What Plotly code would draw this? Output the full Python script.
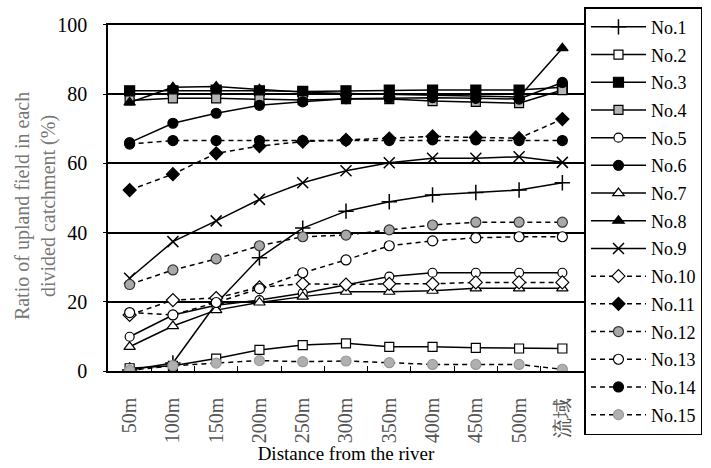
import plotly.graph_objects as go

categories = ["50m", "100m", "150m", "200m", "250m", "300m", "350m", "400m", "450m", "500m", "流域"]

no1 = [0.3, 2.3, 19.5, 32.7, 41.3, 46.2, 48.9, 50.9, 51.6, 52.3, 54.4]
no2 = [0.8, 1.5, 3.6, 6.1, 7.5, 8.0, 7.0, 7.0, 6.7, 6.5, 6.5]
no3 = [81.0, 81.0, 81.2, 81.0, 80.8, 81.0, 81.2, 81.2, 81.2, 81.2, 82.0]
no4 = [78.2, 78.8, 78.8, 78.5, 78.3, 78.6, 78.6, 78.0, 77.8, 77.4, 81.2]
no5 = [9.9, 16.2, 19.0, 20.5, 22.5, 24.9, 27.3, 28.4, 28.4, 28.4, 28.4]
no6 = [66.0, 71.6, 74.5, 76.8, 77.8, 78.7, 78.8, 79.0, 78.8, 78.6, 83.4]
no7 = [7.0, 13.0, 17.6, 19.8, 21.5, 22.9, 22.9, 23.2, 23.9, 23.9, 23.9]
no8 = [77.6, 82.0, 82.2, 81.4, 80.6, 80.2, 79.9, 79.6, 79.4, 79.2, 93.3]
no9 = [26.8, 37.4, 43.4, 49.6, 54.4, 57.9, 60.2, 61.5, 61.5, 61.9, 60.3]
no10 = [16.2, 20.5, 21.1, 24.2, 25.2, 25.0, 25.2, 25.2, 25.6, 25.6, 25.6]
no11 = [52.3, 56.9, 62.9, 65.0, 66.3, 66.8, 67.2, 67.8, 67.5, 67.3, 72.8]
no12 = [25.0, 29.2, 32.4, 36.2, 38.8, 39.3, 40.8, 42.2, 43.0, 43.0, 43.0]
no13 = [16.9, 16.2, 19.8, 23.8, 28.4, 32.1, 36.2, 37.6, 38.5, 38.8, 38.8]
no14 = [65.6, 66.6, 66.6, 66.6, 66.6, 66.6, 66.6, 66.8, 66.8, 66.6, 66.6]
no15 = [0.2, 1.5, 2.3, 3.0, 2.7, 2.9, 2.4, 1.9, 1.9, 1.9, 0.5]

series_names = ["No.1", "No.2", "No.3", "No.4", "No.5", "No.6", "No.7", "No.8",
                "No.9", "No.10", "No.11", "No.12", "No.13", "No.14", "No.15"]
series_values = [no1, no2, no3, no4, no5, no6, no7, no8, no9, no10, no11, no12, no13, no14, no15]

y_title = "Ratio of upland field in each<br>divided catchment (%)"
x_title = "Distance from the river"

# (symbol, fill, outline, dash, size)
styles = [
    ("cross-thin", "black", "black", "solid", 11),
    ("square", "white", "black", "solid", 9),
    ("square", "black", "black", "solid", 10),
    ("square", "#b4b4b4", "black", "solid", 9),
    ("circle", "white", "black", "solid", 9),
    ("circle", "black", "black", "solid", 10),
    ("triangle-up", "white", "black", "solid", 10),
    ("triangle-up", "black", "black", "solid", 10),
    ("x-thin", "black", "black", "solid", 11),
    ("diamond", "white", "black", "dash", 10),
    ("diamond", "black", "black", "dash", 10),
    ("circle", "#a8a8a8", "#333333", "dash", 10),
    ("circle", "white", "black", "dash", 10),
    ("circle", "black", "black", "dash", 10),
    ("circle", "#b0b0b0", "#999999", "dash", 10),
]

fig = go.Figure()
for i, (name, vals, st) in enumerate(zip(series_names, series_values, styles)):
    sym, fill, outline, dash, size = st
    if sym in ("cross-thin", "x-thin"):
        marker = dict(symbol=sym, size=size, color="black", line=dict(color="black", width=1.5))
    else:
        marker = dict(symbol=sym, size=size, color=fill, line=dict(color=outline, width=1.2))
    fig.add_trace(go.Scatter(
        x=categories, y=vals, name=name, mode="lines+markers",
        line=dict(color="black", width=1.5, dash="5px,4px" if dash == "dash" else "solid"),
        marker=marker, legendgroup=name,
    ))

# plot area spans y 5..435 px so the tall legend fits; the y axis domain covers 25..371 px
fig.update_layout(
    width=711, height=468,
    margin=dict(l=108, r=127, t=5, b=33, autoexpand=False),
    paper_bgcolor="white", plot_bgcolor="white",
    font=dict(family="Liberation Serif", size=18, color="black"),
    showlegend=True,
    legend=dict(
        x=1.001, y=0.995, xanchor="left", yanchor="top",
        bordercolor="black", borderwidth=1.5, bgcolor="white",
        font=dict(family="Liberation Serif", size=18, color="black"),
        tracegroupgap=1.3, itemwidth=55,
    ),
    xaxis=dict(
        type="category", range=[-0.5, 10.5], automargin=False,
        showline=True, linecolor="black", linewidth=1.5, mirror=True,
        ticks="inside", ticklen=5, tickcolor="black", tickson="boundaries",
        tickangle=-90, showgrid=False,
        tickfont=dict(family="Liberation Serif", size=20, color="#555555"),
        ticklabelstandoff=17,
        title=dict(text=x_title, standoff=2,
                   font=dict(family="Liberation Serif", size=19, color="black")),
    ),
    yaxis=dict(
        domain=[0.1488, 0.9535], automargin=False,
        range=[0, 100], tickvals=[0, 20, 40, 60, 80, 100],
        showline=True, linecolor="black", linewidth=1.5,
        showgrid=True, gridcolor="black", gridwidth=1.5,
        ticks="outside", ticklen=3, tickcolor="black",
        tickfont=dict(family="Liberation Serif", size=20, color="black"),
        ticklabelstandoff=12,
        zeroline=False,
    ),
    annotations=[dict(
        text=y_title, xref="paper", yref="paper",
        x=-0.151, y=0.5326, xanchor="center", yanchor="middle",
        textangle=-90, showarrow=False,
        font=dict(family="Liberation Serif", size=20, color="#777777"),
    )],
)

fig.write_html("out.html", config={"displayModeBar": False},
               post_script="document.body.style.margin='0';")
